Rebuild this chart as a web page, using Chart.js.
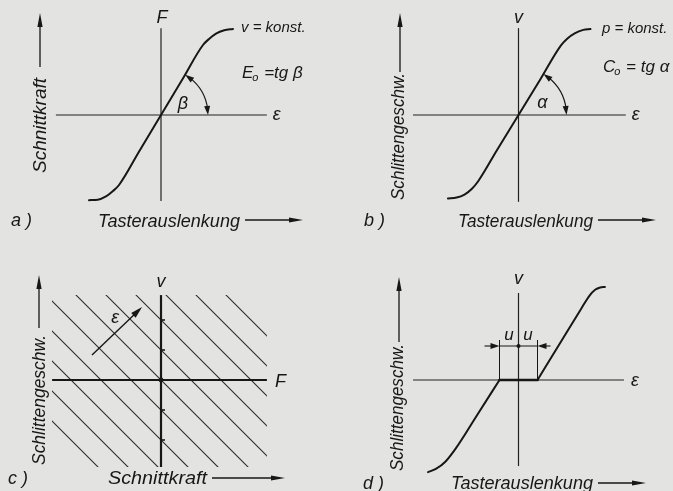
<!DOCTYPE html>
<html><head><meta charset="utf-8">
<script src="https://cdn.jsdelivr.net/npm/chart.js@4.4.1/dist/chart.umd.min.js"></script>
<style>
html,body{margin:0;padding:0;background:#e3e3e1;width:673px;height:491px;overflow:hidden}
canvas{position:absolute}
</style></head><body>
<canvas id="ca" style="left:0;top:0" width="336" height="245"></canvas>
<canvas id="cb" style="left:336px;top:0" width="337" height="245"></canvas>
<canvas id="cc" style="left:0;top:245px" width="336" height="246"></canvas>
<canvas id="cd" style="left:336px;top:245px" width="337" height="246"></canvas>
<script>
// ---------------- DATA (arbitrary units) ----------------
// a) Schnittkraft F over Tasterauslenkung ε (v = konst.)
const curveA_eps = [-1, -0.878, -0.764, -0.667, -0.583, -0.3, 0, 0.3, 0.583, 0.667, 0.764, 0.878, 1];
const curveA_F   = [-0.99, -0.985, -0.947, -0.884, -0.814, -0.419, 0, 0.419, 0.814, 0.884, 0.947, 0.986, 1];
const axisA_eps  = [-1.46, 1.47];
const axisA_F    = [-1.0, 1.01];

// b) Schlittengeschwindigkeit v over Tasterauslenkung ε (p = konst.)
const curveB_eps = [-0.98, -0.86, -0.75, -0.65, -0.56, -0.3, 0, 0.3, 0.59, 0.68, 0.78, 0.9, 1.0];
const curveB_v   = [-0.97, -0.96, -0.925, -0.86, -0.77, -0.41, 0, 0.41, 0.81, 0.89, 0.95, 0.99, 1.0];
const axisB_eps  = [-1.465, 1.49];
const axisB_v    = [-1.01, 1.01];

// c) lines of constant ε in the F–v plane
const epsLevels  = [-5, -4, -3, -2, -1, 0, 1, 2, 3, 4, 5];
const vAxisTicks = [-2, -1, 1, 2];
const axisC_F    = [-3.63, 3.53];
const axisC_v    = [-2.9, 2.83];

// d) v over ε with dead zone ±u
const dNeg_eps  = [-4.76, -4.35, -3.85, -3.3, -2.2, -1];
const dNeg_v    = [-4.85, -4.68, -4.3, -3.6, -1.88, 0];
const dDead_eps = [-1, 1];
const dDead_v   = [0, 0];
const dPos_eps  = [1, 2.2, 3.3, 3.72, 4.05, 4.3, 4.55];
const dPos_v    = [0, 1.96, 3.75, 4.42, 4.76, 4.87, 4.9];
const deadZoneU = [-1, 1];
const axisD_eps = [-5.55, 5.55];
const axisD_v   = [-4.53, 4.58];

// ---------------- STYLE / LAYOUT ----------------
const INK = '#171717';
const FAM = '"Liberation Sans", Arial, sans-serif';

function series(xs, ys, style) {
  return Object.assign({
    data: xs.map((x, i) => ({ x: x, y: ys[i] })),
    pointRadius: 0, borderColor: INK, borderWidth: 2, fill: false, clip: false,
    tension: 0, borderCapStyle: 'round', borderJoinStyle: 'round'
  }, style || {});
}
const smooth = { cubicInterpolationMode: 'monotone' };
const thinAxis = { borderWidth: 1.2, borderCapStyle: 'butt', borderColor: '#222' };

function label(ctx, s, x, y, o) {
  o = o || {};
  ctx.save();
  ctx.font = 'italic ' + (o.size || 18) + 'px ' + FAM;
  ctx.fillStyle = INK;
  ctx.textAlign = o.align || 'left';
  ctx.textBaseline = 'alphabetic';
  ctx.translate(x, y);
  if (o.rot) ctx.rotate(o.rot);
  if (o.len) { const w = ctx.measureText(s).width; ctx.scale(o.len / w, 1); }
  ctx.fillText(s, 0, 0);
  ctx.restore();
}
function subLabel(ctx, main, sub, rest, x, y, size) {
  ctx.save();
  ctx.fillStyle = INK; ctx.textBaseline = 'alphabetic'; ctx.textAlign = 'left';
  ctx.font = 'italic ' + size + 'px ' + FAM;
  ctx.fillText(main, x, y);
  let cx = x + ctx.measureText(main).width - 1;
  ctx.font = 'italic ' + Math.round(size * 0.62) + 'px ' + FAM;
  ctx.fillText(sub, cx, y + 3);
  cx += ctx.measureText(sub).width + 1;
  ctx.font = 'italic ' + size + 'px ' + FAM;
  ctx.fillText(rest, cx, y);
  ctx.restore();
}
function head(ctx, tx, ty, ang, hl, hw) {
  const c = Math.cos(ang), s = Math.sin(ang);
  const bx = tx - c * hl, by = ty - s * hl;
  ctx.beginPath();
  ctx.moveTo(tx, ty);
  ctx.lineTo(bx - s * hw, by + c * hw);
  ctx.lineTo(bx + s * hw, by - c * hw);
  ctx.closePath(); ctx.fill();
}
function arrow(ctx, x1, y1, x2, y2, hl, hw, lw) {
  hl = hl || 14; hw = hw || 2.6;
  const a = Math.atan2(y2 - y1, x2 - x1);
  ctx.save(); ctx.strokeStyle = INK; ctx.fillStyle = INK; ctx.lineWidth = lw || 1.3;
  ctx.beginPath(); ctx.moveTo(x1, y1);
  ctx.lineTo(x2 - Math.cos(a) * (hl - 2), y2 - Math.sin(a) * (hl - 2)); ctx.stroke();
  head(ctx, x2, y2, a, hl, hw);
  ctx.restore();
}
function angleArc(ctx, x0, y0, r, theta) {
  ctx.save(); ctx.strokeStyle = INK; ctx.fillStyle = INK; ctx.lineWidth = 1.2;
  ctx.beginPath(); ctx.arc(x0, y0, r, -theta + 0.12, -0.12); ctx.stroke();
  let p = -theta; head(ctx, x0 + r * Math.cos(p), y0 + r * Math.sin(p), p - Math.PI / 2 + 0.1, 9, 3);
  p = 0; head(ctx, x0 + r, y0, Math.PI / 2 - 0.1, 9, 3);
  ctx.restore();
}

function makeChart(id, spec, datasets, extras) {
  const cv = document.getElementById(id);
  const W = cv.width, H = cv.height;
  const padding = {
    left: spec.ox + spec.xr[0] * spec.ux,
    right: W - (spec.ox + spec.xr[1] * spec.ux),
    top: spec.oy - spec.yr[1] * spec.uy,
    bottom: H - (spec.oy - spec.yr[0] * spec.uy)
  };
  return new Chart(cv, {
    type: 'line',
    data: { datasets: datasets },
    options: {
      responsive: false, animation: false, devicePixelRatio: 1, events: [],
      layout: { padding: padding },
      plugins: { legend: { display: false }, tooltip: { enabled: false }, title: { display: false } },
      scales: {
        x: { type: 'linear', min: spec.xr[0], max: spec.xr[1], display: false },
        y: { type: 'linear', min: spec.yr[0], max: spec.yr[1], display: false }
      }
    },
    plugins: [{ id: 'extras', afterDatasetsDraw(chart) {
      const X = v => chart.scales.x.getPixelForValue(v), Y = v => chart.scales.y.getPixelForValue(v);
      extras(chart.ctx, X, Y);
    } }]
  });
}

// ---------------- a) ----------------
makeChart('ca', { ox: 161, oy: 115, ux: 72, uy: 86, xr: axisA_eps, yr: axisA_F }, [
  series(curveA_eps, curveA_F, smooth),
  series(axisA_eps, [0, 0], thinAxis),
  series([0, 0], axisA_F, thinAxis)
], (ctx, X, Y) => {
  const x0 = X(0), y0 = Y(0);
  const k = 8;
  const th = Math.atan2(y0 - Y(curveA_F[k]), X(curveA_eps[k]) - x0);
  angleArc(ctx, x0, y0, 47, th);
  label(ctx, 'F', x0 + 1, Y(axisA_F[1]) - 5, { align: 'center' });
  label(ctx, 'ε', X(axisA_eps[1]) + 6, y0 + 5);
  label(ctx, 'β', x0 + 22, y0 - 6, { align: 'center' });
  label(ctx, 'v = konst.', 241, 32, { size: 15 });
  subLabel(ctx, 'E', 'o', ' =tg β', 242, 78, 17);
  label(ctx, 'Schnittkraft', 46, 173, { rot: -Math.PI / 2, len: 95 });
  arrow(ctx, 40, 67, 40, 13);
  label(ctx, 'a )', 11, 226);
  label(ctx, 'Tasterauslenkung', 98, 227, { len: 142 });
  arrow(ctx, 245, 220, 303, 220);
});

// ---------------- b) ----------------
makeChart('cb', { ox: 182.5, oy: 115, ux: 72, uy: 86, xr: axisB_eps, yr: axisB_v }, [
  series(curveB_eps, curveB_v, smooth),
  series(axisB_eps, [0, 0], thinAxis),
  series([0, 0], axisB_v, thinAxis)
], (ctx, X, Y) => {
  const x0 = X(0), y0 = Y(0);
  const k = 8;
  const th = Math.atan2(y0 - Y(curveB_v[k]), X(curveB_eps[k]) - x0);
  angleArc(ctx, x0, y0, 48, th);
  label(ctx, 'v', x0, Y(axisB_v[1]) - 5, { align: 'center' });
  label(ctx, 'ε', X(axisB_eps[1]) + 6, y0 + 5);
  label(ctx, 'α', x0 + 24, y0 - 7, { align: 'center' });
  label(ctx, 'p = konst.', 266, 33, { size: 15 });
  subLabel(ctx, 'C', 'o', ' = tg α', 267, 72, 17);
  label(ctx, 'Schlittengeschw.', 68, 200, { rot: -Math.PI / 2, len: 127 });
  arrow(ctx, 64, 72, 64, 13);
  label(ctx, 'b )', 28, 226);
  label(ctx, 'Tasterauslenkung', 122, 227, { len: 135 });
  arrow(ctx, 262, 220, 320, 220);
});

// ---------------- c) ----------------
const diagSets = epsLevels.map(L => series([-10, 10], [L + 10, L - 10], { borderWidth: 1.1, clip: 0, borderColor: '#2a2a2a', borderCapStyle: 'butt' }));
makeChart('cc', { ox: 161, oy: 135, ux: 30, uy: 30, xr: axisC_F, yr: axisC_v }, [
  series(axisC_F, [0, 0], { borderWidth: 2.2, borderCapStyle: 'butt' }),
  series([0, 0], axisC_v, { borderWidth: 2.2, borderCapStyle: 'butt' })
].concat(diagSets), (ctx, X, Y) => {
  const x0 = X(0), y0 = Y(0);
  ctx.save(); ctx.strokeStyle = INK; ctx.fillStyle = INK; ctx.lineWidth = 1.6;
  vAxisTicks.forEach(t => { ctx.beginPath(); ctx.moveTo(x0, Y(t)); ctx.lineTo(x0 + 4, Y(t)); ctx.stroke(); });
  ctx.beginPath(); ctx.arc(x0, y0, 2.4, 0, Math.PI * 2); ctx.fill();
  ctx.restore();
  arrow(ctx, X(-2.3), Y(0.83), X(-0.63), Y(2.43), 12, 3.2, 1.4);
  label(ctx, 'ε', X(-1.53), Y(1.9), { align: 'center' });
  label(ctx, 'v', x0, Y(axisC_v[1]) - 8, { align: 'center' });
  label(ctx, 'F', X(axisC_F[1]) + 8, y0 + 7);
  label(ctx, 'Schlittengeschw.', 45, 220, { rot: -Math.PI / 2, len: 130 });
  arrow(ctx, 39, 83, 39, 30);
  label(ctx, 'c )', 8, 239);
  label(ctx, 'Schnittkraft', 108, 239, { len: 99 });
  arrow(ctx, 212, 233, 285, 233);
});

// ---------------- d) ----------------
makeChart('cd', { ox: 182.5, oy: 135, ux: 19, uy: 19, xr: axisD_eps, yr: axisD_v }, [
  series(dNeg_eps, dNeg_v, smooth),
  series(dDead_eps, dDead_v, { borderWidth: 2.6 }),
  series(dPos_eps, dPos_v, smooth),
  series(axisD_eps, [0, 0], thinAxis),
  series([0, 0], axisD_v, thinAxis)
], (ctx, X, Y) => {
  const x0 = X(0), y0 = Y(0);
  const yd = y0 - 34;
  ctx.save(); ctx.strokeStyle = INK; ctx.fillStyle = INK; ctx.lineWidth = 1;
  deadZoneU.forEach(u => { ctx.beginPath(); ctx.moveTo(X(u), y0); ctx.lineTo(X(u), yd - 6); ctx.stroke(); });
  ctx.beginPath(); ctx.moveTo(X(deadZoneU[0]), yd); ctx.lineTo(X(deadZoneU[1]), yd); ctx.stroke();
  ctx.beginPath(); ctx.arc(x0, yd, 2, 0, Math.PI * 2); ctx.fill();
  ctx.restore();
  arrow(ctx, X(deadZoneU[0]) - 15, yd, X(deadZoneU[0]), yd, 9, 3, 1.1);
  arrow(ctx, X(deadZoneU[1]) + 13, yd, X(deadZoneU[1]), yd, 9, 3, 1.1);
  label(ctx, 'u', (X(deadZoneU[0]) + x0) / 2, yd - 6, { align: 'center', size: 17 });
  label(ctx, 'u', (X(deadZoneU[1]) + x0) / 2, yd - 6, { align: 'center', size: 17 });
  label(ctx, 'v', x0, Y(axisD_v[1]) - 9, { align: 'center' });
  label(ctx, 'ε', X(axisD_eps[1]) + 7, y0 + 6);
  label(ctx, 'Schlittengeschw.', 67, 226, { rot: -Math.PI / 2, len: 127 });
  arrow(ctx, 63, 97, 63, 32);
  label(ctx, 'd )', 27, 244);
  label(ctx, 'Tasterauslenkung', 115, 244, { len: 142 });
  arrow(ctx, 262, 238, 310, 238);
});
</script>
</body></html>
